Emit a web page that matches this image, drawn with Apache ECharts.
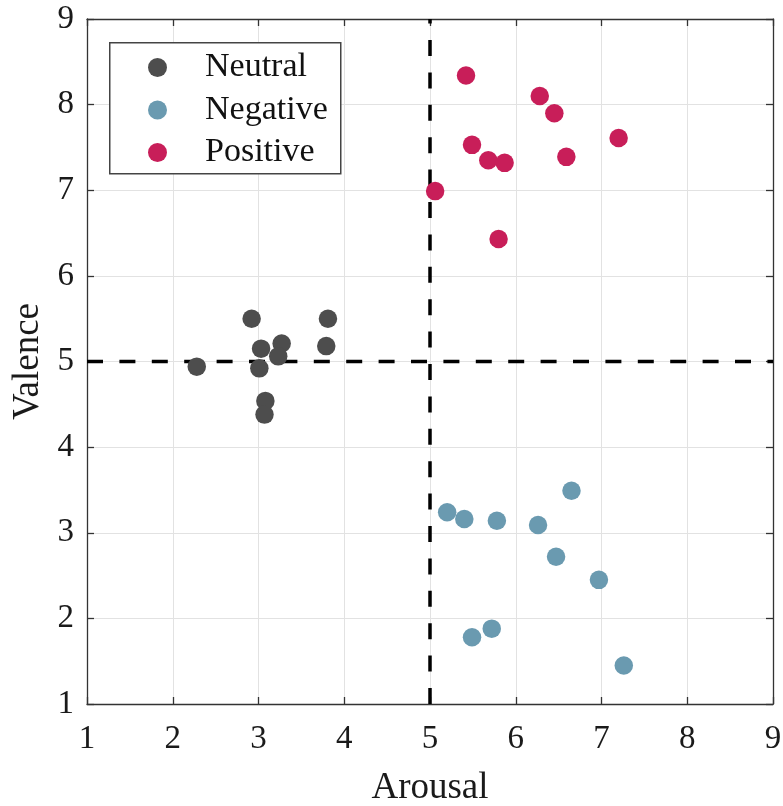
<!DOCTYPE html>
<html>
<head>
<meta charset="utf-8">
<script src="https://cdn.jsdelivr.net/npm/echarts@6/dist/echarts.min.js"></script>
<style>html,body{margin:0;padding:0;background:#fff;}#c{width:783px;height:806px;}</style>
</head>
<body>
<div id="c"></div>
<script>
const xTicks = [1, 2, 3, 4, 5, 6, 7, 8, 9];
const yTicks = [1, 2, 3, 4, 5, 6, 7, 8, 9];
const neutral = [[2.28,4.94],[2.92,5.50],[3.03,5.15],[3.01,4.92],[3.27,5.21],[3.23,5.06],[3.08,4.54],[3.07,4.38],[3.79,5.18],[3.81,5.50]];
const negative = [[5.20,3.24],[5.40,3.16],[5.78,3.14],[6.26,3.09],[6.65,3.49],[6.47,2.72],[6.97,2.45],[5.49,1.78],[5.72,1.88],[7.26,1.45]];
const positive = [[5.42,8.34],[6.28,8.10],[6.45,7.90],[5.49,7.53],[5.68,7.35],[5.87,7.32],[6.59,7.39],[7.20,7.61],[5.06,6.99],[5.80,6.43]];
const vLine = [[5,1],[5,9]];
const hLine = [[1,5],[9,5]];

const font = 'Liberation Serif';
const chart = echarts.init(document.getElementById('c'));
const axisCommon = {
  type: 'value', min: 1, max: 9, interval: 1,
  axisLine: { show: true, lineStyle: { color: '#333', width: 1.3 } },
  axisTick: { show: true, inside: true, length: 7, lineStyle: { color: '#333', width: 1.3 } }
};
chart.setOption({
  animation: false,
  grid: { left: 87, right: 10, top: 19, bottom: 102, containLabel: false, outerBoundsMode: 'none' },
  xAxis: [
    Object.assign({}, axisCommon, {
      position: 'bottom',
      name: 'Arousal', nameLocation: 'middle', nameGap: 66,
      nameTextStyle: { fontFamily: font, fontSize: 37, color: '#1a1a1a' },
      axisLabel: { fontFamily: font, fontSize: 33, color: '#1a1a1a', margin: 19,
        formatter: v => xTicks.includes(v) ? String(v) : '' },
      splitLine: { show: true, lineStyle: { color: '#e2e2e2', width: 1 } }
    }),
    Object.assign({}, axisCommon, {
      position: 'top', axisLabel: { show: false }, splitLine: { show: false }
    })
  ],
  yAxis: [
    Object.assign({}, axisCommon, {
      position: 'left',
      name: 'Valence', nameLocation: 'middle', nameGap: 40,
      nameTextStyle: { fontFamily: font, fontSize: 37, color: '#1a1a1a' },
      axisLabel: { fontFamily: font, fontSize: 33, color: '#1a1a1a', margin: 13,
        formatter: v => yTicks.includes(v) ? String(v) : '' },
      splitLine: { show: true, lineStyle: { color: '#e2e2e2', width: 1 } }
    }),
    Object.assign({}, axisCommon, {
      position: 'right', axisLabel: { show: false }, splitLine: { show: false }
    })
  ],
  graphic: [{
    type: 'rect', left: 109, top: 42, z: 100,
    shape: { width: 231, height: 131 },
    style: { fill: '#fff', stroke: '#444', lineWidth: 1.5 }
  }],
  legend: {
    data: ['Neutral', 'Negative', 'Positive'],
    orient: 'vertical', left: 148, top: 50.5, padding: 0, z: 110,
    icon: 'circle', itemWidth: 19, itemHeight: 19, itemGap: 8.5,
    textStyle: { fontFamily: font, fontSize: 34, color: '#111', lineHeight: 33, padding: [0, 0, 0, 33] }
  },
  series: [
    { type: 'line', data: vLine, symbol: 'none', silent: true, z: 1,
      lineStyle: { color: '#000', width: 3.5, type: [16, 16.4] } },
    { type: 'line', data: hLine, symbol: 'none', silent: true, z: 1,
      lineStyle: { color: '#000', width: 3.5, type: [16, 16.4] } },
    { name: 'Neutral', type: 'scatter', data: neutral, symbolSize: 18.5, z: 3,
      itemStyle: { color: '#4d4d4d', opacity: 1 } },
    { name: 'Negative', type: 'scatter', data: negative, symbolSize: 18.5, z: 3,
      itemStyle: { color: '#6a9ab0', opacity: 1 } },
    { name: 'Positive', type: 'scatter', data: positive, symbolSize: 18.5, z: 3,
      itemStyle: { color: '#c81e59', opacity: 1 } }
  ]
});
</script>
</body>
</html>
